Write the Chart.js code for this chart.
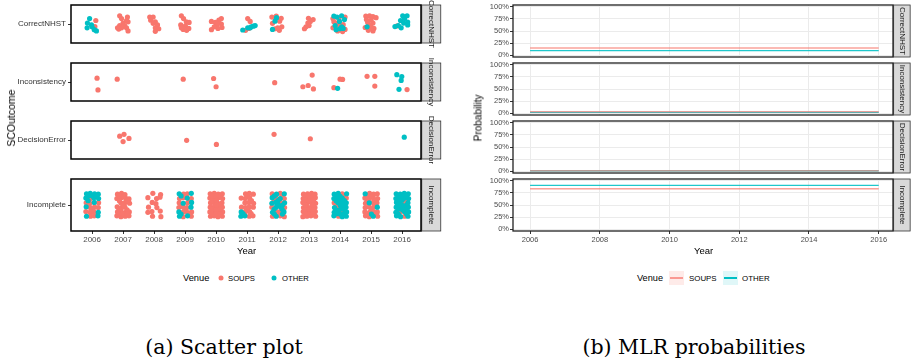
<!DOCTYPE html>
<html>
<head>
<meta charset="utf-8">
<script src="https://cdn.jsdelivr.net/npm/chart.js@4.4.1/dist/chart.umd.min.js"></script>
<style>
  html, body { margin: 0; padding: 0; background: #fff; }
  body { width: 912px; height: 363px; position: relative; overflow: hidden; font-family: "Liberation Sans", Arial, sans-serif; }
  canvas { position: absolute; }
  .t { position: absolute; white-space: nowrap; color: #000; transform: translateY(-50%); }
  .rot { position: absolute; white-space: nowrap; color: #000; transform: translate(-50%, -50%) rotate(-90deg); }
  .cap { position: absolute; text-align: center; font-family: "DejaVu Serif", "Liberation Serif", serif; font-size: 20.5px; line-height: 28px; color: #000; }
  .dot { position: absolute; width: 5px; height: 5px; border-radius: 50%; transform: translate(-50%, -50%); }
  .key { position: absolute; width: 15px; height: 14px; }
  .key i { position: absolute; left: 1px; right: 1px; top: 6px; height: 1.5px; }
</style>
</head>
<body>
<canvas id="s0" width="442" height="72" style="left:0;top:-5px"></canvas>
<canvas id="s1" width="442" height="72" style="left:0;top:53px"></canvas>
<canvas id="s2" width="442" height="72" style="left:0;top:111px"></canvas>
<canvas id="s3" width="442" height="86" style="left:0;top:169px"></canvas>

<canvas id="p0" width="456" height="72" style="left:456px;top:-5px"></canvas>
<canvas id="p1" width="456" height="72" style="left:456px;top:53px"></canvas>
<canvas id="p2" width="456" height="72" style="left:456px;top:111px"></canvas>
<canvas id="p3" width="456" height="86" style="left:456px;top:169px"></canvas>

<div class="rot" style="left:11px;top:118px;font-size:10.5px">SCOutcome</div>
<div class="t" style="left:237px;top:250px;font-size:9.5px">Year</div>
<div class="rot" style="left:478px;top:118px;font-size:10px">Probability</div>
<div class="t" style="left:694px;top:250px;font-size:9.5px">Year</div>

<div class="t" style="left:183px;top:278px;font-size:9.3px">Venue</div>
<div class="dot" style="left:221px;top:278px;background:#F8766D"></div>
<div class="t" style="left:228px;top:278px;font-size:7.7px">SOUPS</div>
<div class="dot" style="left:274px;top:278px;background:#00BFC4"></div>
<div class="t" style="left:282px;top:278px;font-size:7.7px">OTHER</div>

<div class="t" style="left:637px;top:278px;font-size:9.2px">Venue</div>
<div class="key" style="left:669px;top:271px;background:rgba(248,118,109,0.15)"><i style="background:rgba(248,118,109,0.7)"></i></div>
<div class="t" style="left:689px;top:278px;font-size:7.9px">SOUPS</div>
<div class="key" style="left:723px;top:271px;background:rgba(0,191,196,0.12)"><i style="background:#00BFC4"></i></div>
<div class="t" style="left:742px;top:278px;font-size:7.9px">OTHER</div>

<div class="cap" style="left:0;width:448px;top:333px">(a) Scatter plot</div>
<div class="cap" style="left:470px;width:448px;top:333px">(b) MLR probabilities</div>

<script>
const outcomes = ["CorrectNHST", "Inconsistency", "DecisionError", "Incomplete"];
const scatterYears = [2006, 2007, 2008, 2009, 2010, 2011, 2012, 2013, 2014, 2015, 2016];
const mlrYears = [2006, 2016];
const mlrTicks = [2006, 2008, 2010, 2012, 2014, 2016];
const probTicks = [0, 0.25, 0.5, 0.75, 1];

// jittered points: [year, x jitter, y jitter]
const correctSoups = [
  [2006,0.12,0.11],[2006,0.09,-0.08],
  [2007,-0.11,0.26],[2007,0.14,0.22],[2007,-0.05,0.17],[2007,0.11,0.11],[2007,0.16,0.07],[2007,0,0.03],[2007,-0.11,-0.05],[2007,0.05,-0.05],[2007,-0.18,-0.12],[2007,-0.05,-0.12],[2007,0.11,-0.12],[2007,0.16,-0.22],[2007,-0.14,-0.16],
  [2008,-0.14,0.22],[2008,-0.03,0.22],[2008,-0.11,0.12],[2008,0.04,0.07],[2008,-0.03,0.02],[2008,0.11,-0.03],[2008,0.04,-0.12],[2008,0.15,-0.15],[2008,0.04,-0.23],
  [2009,-0.12,0.26],[2009,-0.05,0.17],[2009,0.04,0.07],[2009,0.13,0.05],[2009,-0.14,-0.03],[2009,0.01,-0.06],[2009,0.12,-0.14],[2009,-0.06,-0.17],[2009,0.05,-0.2],[2009,-0.12,-0.12],
  [2010,0.17,0.17],[2010,0.09,0.12],[2010,-0.15,0.08],[2010,-0.02,0.05],[2010,0.17,0],[2010,0.19,-0.11],[2010,0.02,-0.05],[2010,-0.15,-0.18],[2010,0.06,-0.14],[2010,-0.06,-0.09],[2010,0.04,0.03],
  [2011,0.02,0.17],[2011,0.1,0.08],[2011,0.05,-0.14],[2011,-0.05,-0.2],
  [2012,-0.2,0.22],[2012,-0.06,0.25],[2012,0.1,0.18],[2012,0.05,0.09],[2012,-0.18,0.02],[2012,0.12,-0.09],[2012,0.04,-0.2],[2012,-0.1,-0.15],[2012,-0.01,-0.12],
  [2013,-0.02,0.18],[2013,0.13,0.14],[2013,0.04,0.08],[2013,-0.04,0.03],[2013,0,-0.05],[2013,-0.1,-0.09],[2013,-0.15,-0.15],
  [2014,-0.23,0.17],[2014,-0.04,0.18],[2014,0.16,0.22],[2014,-0.1,0.03],[2014,-0.2,0.07],[2014,0.1,-0.02],[2014,0.01,-0.03],[2014,-0.23,-0.12],[2014,0.16,-0.17],[2014,-0.08,-0.22],[2014,0.08,-0.24],[2014,-0.02,-0.08],
  [2015,-0.17,0.25],[2015,-0.05,0.26],[2015,0.06,0.23],[2015,0.16,0.2],[2015,-0.15,0.14],[2015,0,0.12],[2015,-0.11,0.05],[2015,0.06,0.03],[2015,-0.02,-0.05],[2015,-0.19,-0.11],[2015,0.09,-0.14],[2015,-0.09,-0.2],[2015,0.06,-0.22],[2015,0,-0.11],
  [2016,-0.16,-0.06]
];
const correctOther = [
  [2006,-0.08,0.17],[2006,-0.15,0.03],[2006,-0.16,-0.12],[2006,0,-0.09],[2006,0.07,-0.18],[2006,0.14,-0.22],[2006,-0.02,-0.03],
  [2011,-0.14,-0.19],[2011,0.02,-0.12],[2011,0.13,-0.09],[2011,0.2,-0.07],[2011,0.26,-0.05],[2011,0.1,-0.12],
  [2012,-0.1,0.09],[2012,-0.18,-0.17],[2012,-0.05,0.2],
  [2014,-0.2,0.25],[2014,-0.1,0.22],[2014,0.05,0.26],[2014,0.14,0.14],[2014,-0.02,0.08],[2014,-0.16,-0.05],[2014,0.05,-0.09],[2014,-0.13,-0.18],[2014,0.1,-0.14],[2014,-0.01,-0.15],
  [2015,-0.13,-0.09],
  [2016,0.02,0.26],[2016,0.16,0.26],[2016,0.08,0.17],[2016,-0.05,0.11],[2016,0.18,0.06],[2016,0.05,0.03],[2016,0.18,-0.03],[2016,-0.12,-0.05],[2016,-0.03,-0.12],[2016,-0.23,-0.08]
];
const inconsSoups = [
  [2006,0.16,0.12],[2006,0.19,-0.25],[2007,-0.19,0.09],[2009,-0.06,0.09],[2010,-0.08,0.11],[2010,0,-0.15],
  [2012,-0.11,-0.02],[2013,0.1,0.22],[2013,-0.2,-0.15],[2013,-0.03,-0.11],[2013,0.14,-0.22],
  [2014,0,0.09],[2014,0.08,0.08],[2014,-0.2,-0.18],[2015,-0.13,0.18],[2015,0.12,0.18],[2015,0.12,-0.13],[2016,0.16,-0.24]
];
const inconsOther = [
  [2014,-0.08,-0.2],[2016,-0.17,0.23],[2016,-0.01,0.17],[2016,-0.03,0.05],[2016,-0.1,-0.23]
];
const decisionSoups = [
  [2007,-0.11,0.12],[2007,0.03,0.18],[2007,0.19,0.05],[2007,0,-0.05],[2009,0.05,-0.01],[2010,0.01,-0.14],[2012,-0.13,0.18],[2013,0.04,0.04]
];
const decisionOther = [
  [2016,0.07,0.09]
];
const incompleteSoups = [
  [2006,-0.05,0.15],[2006,-0.19,0.05],[2006,-0.07,0.04],[2006,0.21,0.05],[2006,-0.06,-0.06],[2006,0.08,-0.05],[2006,0.2,-0.06],[2006,-0.2,-0.15],[2006,-0.07,-0.17],[2006,0.06,-0.16],[2006,-0.05,-0.26],[2006,0.07,-0.25],
  [2006,0.0,-0.1],[2006,0.13,-0.2],[2006,-0.13,0.0],
  [2007,-0.18,0.25],[2007,-0.05,0.27],[2007,0.06,0.24],[2007,-0.2,0.15],[2007,-0.06,0.17],[2007,0.08,0.16],[2007,0.19,0.14],[2007,-0.07,0.05],[2007,0.07,0.06],[2007,0.21,0.04],[2007,-0.19,-0.04],[2007,-0.05,-0.06],[2007,0.06,-0.05],
  [2007,-0.18,-0.16],[2007,-0.06,-0.15],[2007,0.08,-0.17],[2007,0.2,-0.16],[2007,-0.2,-0.25],[2007,-0.07,-0.27],[2007,0.07,-0.26],[2007,0.19,-0.25],[2007,0,0],[2007,-0.12,0.1],
  [2007,-0.12,0.21],[2007,0.01,0.2],[2007,0.13,0.1],[2007,-0.13,-0.1],[2007,0.13,-0.11],[2007,-0.12,-0.21],[2007,0.0,-0.2],[2007,0.14,-0.21],
  [2008,-0.04,0.27],[2008,0.21,0.24],[2008,-0.2,0.17],[2008,0.08,0.15],[2008,0.19,0.18],[2008,-0.06,0.06],[2008,0.06,0.03],[2008,-0.18,-0.05],[2008,0.09,-0.06],[2008,-0.2,-0.17],[2008,-0.07,-0.15],[2008,0.2,-0.14],[2008,-0.05,-0.26],[2008,0.22,-0.27],
  [2009,-0.05,0.25],[2009,0.07,0.26],[2009,-0.18,0.15],[2009,-0.06,0.17],[2009,0.2,0.15],[2009,-0.19,0.05],[2009,0.08,0.05],[2009,-0.2,-0.06],[2009,-0.07,-0.04],[2009,0.06,-0.06],[2009,-0.05,-0.15],[2009,0.07,-0.17],[2009,0.21,-0.16],[2009,-0.06,-0.27],[2009,0.2,-0.26],
  [2009,0.01,0.2],[2009,-0.12,0.0],[2009,0.0,-0.1],[2009,0.13,-0.21],[2009,0.14,0.1],
  [2010,-0.19,0.26],[2010,-0.06,0.27],[2010,0.07,0.25],[2010,0.2,0.26],[2010,-0.2,0.16],[2010,-0.05,0.15],[2010,0.08,0.17],[2010,0.21,0.15],[2010,-0.18,0.05],[2010,-0.07,0.06],[2010,0.06,0.04],[2010,0.19,0.05],
  [2010,-0.19,-0.05],[2010,-0.06,-0.04],[2010,0.07,-0.06],[2010,0.2,-0.05],[2010,-0.2,-0.16],[2010,-0.05,-0.17],[2010,0.08,-0.15],[2010,0.21,-0.16],[2010,-0.18,-0.26],[2010,-0.06,-0.25],[2010,0.06,-0.27],[2010,0.2,-0.26],
  [2010,-0.13,0.21],[2010,0.0,0.2],[2010,0.14,0.21],[2010,-0.12,0.1],[2010,0.01,0.11],[2010,0.13,0.0],[2010,-0.13,-0.1],[2010,0.0,-0.11],[2010,0.14,-0.1],[2010,-0.12,-0.21],[2010,0.01,-0.2],[2010,0.13,-0.21],[2010,0.0,0.0],
  [2011,-0.05,0.26],[2011,0.07,0.27],[2011,0.2,0.25],[2011,-0.19,0.16],[2011,-0.06,0.15],[2011,0.08,0.17],[2011,-0.07,0.05],[2011,0.06,0.06],[2011,0.21,0.04],[2011,-0.18,-0.05],[2011,-0.05,-0.06],[2011,0.07,-0.04],[2011,0.2,-0.05],[2011,-0.06,-0.16],[2011,0.08,-0.15],[2011,0.07,-0.26],[2011,0.19,-0.25],
  [2011,0.0,0.2],[2011,0.14,0.1],[2011,0.01,-0.1],[2011,0.13,-0.2],
  [2012,-0.19,0.26],[2012,0.07,0.27],[2012,-0.06,0.16],[2012,0.2,0.15],[2012,0.08,0.05],[2012,-0.2,-0.05],[2012,0.21,-0.06],[2012,-0.05,-0.16],[2012,0.06,-0.15],[2012,-0.18,-0.26],[2012,0.07,-0.25],[2012,0.2,-0.27],
  [2012,0.13,0.2],[2012,0.01,-0.21],[2012,-0.13,0.1],
  [2013,-0.18,0.25],[2013,-0.05,0.26],[2013,0.08,0.27],[2013,0.19,0.25],[2013,-0.19,0.15],[2013,-0.07,0.16],[2013,0.06,0.15],[2013,0.2,0.17],[2013,-0.2,0.06],[2013,-0.06,0.05],[2013,0.07,0.06],[2013,0.21,0.04],
  [2013,-0.18,-0.06],[2013,-0.05,-0.05],[2013,0.08,-0.04],[2013,0.19,-0.06],[2013,-0.19,-0.15],[2013,-0.06,-0.16],[2013,0.07,-0.17],[2013,0.2,-0.15],[2013,-0.2,-0.27],[2013,-0.07,-0.26],[2013,0.06,-0.25],[2013,0.21,-0.26],
  [2013,-0.12,0.2],[2013,0.01,0.21],[2013,0.13,0.2],[2013,-0.13,0.11],[2013,0.0,0.1],[2013,0.14,0.11],[2013,-0.12,0.0],[2013,0.13,-0.01],[2013,-0.13,-0.11],[2013,0.01,-0.1],[2013,0.14,-0.11],[2013,-0.12,-0.2],[2013,0.0,-0.21],[2013,0.13,-0.2],
  [2014,0.07,0.26],[2014,0.2,0.16],[2014,-0.19,0.05],[2014,-0.06,-0.05],[2014,0.08,-0.16],[2014,-0.05,-0.26],[2014,0.13,0.21],[2014,-0.12,0.0],
  [2015,-0.05,0.27],[2015,0.08,0.25],[2015,0.2,0.26],[2015,-0.2,0.16],[2015,-0.06,0.15],[2015,0.07,0.17],[2015,0.21,0.15],[2015,-0.18,0.04],[2015,0.06,0.06],[2015,0.19,0.05],[2015,-0.19,-0.06],[2015,-0.07,-0.04],[2015,0.08,-0.05],
  [2015,-0.2,-0.16],[2015,-0.05,-0.17],[2015,0.07,-0.15],[2015,0.2,-0.16],[2015,-0.18,-0.25],[2015,-0.06,-0.27],[2015,0.21,-0.26],
  [2015,-0.12,0.21],[2015,0.01,0.2],[2015,0.14,0.1],[2015,-0.13,0.1],[2015,0.0,-0.1],[2015,0.13,-0.2],[2015,-0.12,-0.21],[2015,0.13,0.0],
  [2016,0.07,0.05],[2016,-0.06,-0.16],[2016,0.08,-0.26],[2016,0.13,0.1]
];
const incompleteOther = [
  [2006,-0.18,0.26],[2006,-0.06,0.27],[2006,0.08,0.26],[2006,0.2,0.25],[2006,-0.2,0.16],[2006,0.06,0.17],[2006,0.21,0.15],[2006,0.07,0.06],[2006,-0.19,-0.04],[2006,0.2,-0.17],[2006,-0.18,-0.26],[2006,0.19,-0.25],
  [2006,-0.12,0.21],[2006,0.01,0.21],[2006,0.14,0.2],[2006,-0.13,0.1],
  [2009,-0.19,0.26],[2009,0.2,0.27],[2009,0.07,0.16],[2009,-0.06,0.04],[2009,0.21,0.06],[2009,0.19,-0.05],[2009,-0.2,-0.16],[2009,-0.18,-0.26],[2009,0.08,-0.25],
  [2009,-0.13,0.21],[2009,-0.13,-0.21],
  [2011,-0.19,-0.16],[2011,-0.2,-0.26],[2011,-0.07,-0.25],[2011,-0.13,-0.2],
  [2012,-0.05,0.25],[2012,0.2,0.26],[2012,-0.19,0.17],[2012,0.07,0.15],[2012,-0.2,0.04],[2012,-0.07,0.06],[2012,0.21,0.05],[2012,-0.06,-0.05],[2012,0.08,-0.04],[2012,-0.18,-0.17],[2012,0.19,-0.16],[2012,-0.06,-0.26],
  [2012,-0.12,0.21],[2012,0.0,0.1],[2012,0.14,0.0],[2012,-0.13,-0.1],[2012,0.01,0.0],[2012,0.13,-0.1],[2012,-0.12,-0.21],[2012,0.14,-0.21],
  [2014,-0.19,0.25],[2014,-0.06,0.27],[2014,0.21,0.26],[2014,-0.2,0.15],[2014,-0.05,0.17],[2014,0.07,0.16],[2014,-0.07,0.06],[2014,0.06,0.04],[2014,0.2,0.05],[2014,-0.18,-0.06],[2014,0.08,-0.04],[2014,0.19,-0.05],
  [2014,-0.19,-0.17],[2014,-0.06,-0.15],[2014,0.21,-0.16],[2014,-0.2,-0.25],[2014,0.07,-0.27],[2014,0.2,-0.26],
  [2014,-0.12,0.21],[2014,0.0,0.2],[2014,-0.13,0.1],[2014,0.01,0.1],[2014,0.14,0.1],[2014,0.0,0.0],[2014,0.13,-0.01],[2014,-0.13,-0.11],[2014,0.01,-0.1],[2014,0.14,-0.11],[2014,-0.12,-0.2],[2014,0.0,-0.21],[2014,0.13,-0.2],
  [2015,-0.19,0.26],[2015,-0.06,0.05],[2015,0.2,-0.05],[2015,0.07,-0.26],[2015,0.01,-0.21],
  [2016,-0.19,0.26],[2016,-0.06,0.25],[2016,0.07,0.27],[2016,0.2,0.26],[2016,-0.2,0.15],[2016,-0.05,0.17],[2016,0.08,0.16],[2016,0.21,0.15],[2016,-0.18,0.06],[2016,-0.07,0.04],[2016,0.19,0.05],
  [2016,-0.19,-0.05],[2016,-0.06,-0.06],[2016,0.06,-0.04],[2016,0.2,-0.05],[2016,-0.2,-0.17],[2016,0.07,-0.15],[2016,0.21,-0.16],[2016,-0.18,-0.25],[2016,-0.05,-0.27],[2016,0.19,-0.26],
  [2016,-0.12,0.21],[2016,0.01,0.2],[2016,0.14,0.21],[2016,-0.13,0.1],[2016,0.0,0.11],[2016,-0.12,0.0],[2016,0.0,-0.01],[2016,0.14,0.0],[2016,-0.13,-0.1],[2016,0.01,-0.11],[2016,0.13,-0.1],[2016,-0.12,-0.21],[2016,0.14,-0.2]
];

// MLR predicted probability per outcome, with band
const soupsProb = [0.15, 0.03, 0.01, 0.835];
const soupsLow  = [0.138, 0.02, 0.003, 0.822];
const soupsHigh = [0.162, 0.04, 0.018, 0.848];
const otherProb = [0.097, 0.017, 0.008, 0.903];
const otherLow  = [0.087, 0.008, 0.001, 0.892];
const otherHigh = [0.108, 0.027, 0.016, 0.914];

const soupsColor = "#F8766D";
const otherColor = "#00BFC4";

Chart.defaults.font.family = '"Liberation Sans", Arial, sans-serif';

const frame = {
  id: "frame",
  afterDraw(chart, args, opts) {
    const { ctx, chartArea: a } = chart;
    const h = a.bottom - a.top;
    ctx.save();
    const x0 = a.right + opts.width / 2;
    ctx.fillStyle = "#D9D9D9";
    ctx.fillRect(x0, a.top, opts.strip, h);
    ctx.strokeStyle = "#333";
    ctx.lineWidth = 0.8;
    ctx.strokeRect(x0, a.top, opts.strip, h);
    ctx.strokeStyle = opts.color;
    ctx.lineWidth = opts.width;
    ctx.strokeRect(a.left, a.top, a.right - a.left, h);
    ctx.translate(x0 + opts.strip / 2, a.top + h / 2);
    ctx.rotate(Math.PI / 2);
    ctx.fillStyle = "#1A1A1A";
    ctx.font = '8px "Liberation Sans", Arial, sans-serif';
    ctx.textAlign = "center";
    ctx.textBaseline = "middle";
    ctx.fillText(opts.label, 0, 0);
    ctx.restore();
  }
};

const toPoint = ([yr, dx, dy]) => ({ x: yr + dx, y: dy });

function scatterPanel(id, i, soups, other) {
  const bottom = i === 3;
  new Chart(document.getElementById(id), {
    type: "scatter",
    data: {
      datasets: [
        { label: "SOUPS", data: soups.map(toPoint), backgroundColor: soupsColor, order: 1 },
        { label: "OTHER", data: other.map(toPoint), backgroundColor: otherColor, order: 0 }
      ]
    },
    options: {
      responsive: false,
      animation: false,
      events: [],
      elements: { point: { radius: 2.6, hoverRadius: 2.6, borderWidth: 0 } },
      layout: { padding: { top: 10, bottom: 10, left: 0, right: 21 } },
      plugins: {
        legend: { display: false },
        tooltip: { enabled: false },
        frame: { label: outcomes[i], color: "#000", width: 1.5, strip: 19 }
      },
      scales: {
        x: {
          type: "linear", min: 2005.32, max: 2016.61, display: bottom,
          afterBuildTicks: s => { s.ticks = scatterYears.map(v => ({ value: v })); },
          afterFit: s => { s.height = 14; },
          ticks: { font: { size: 8 }, color: "#4D4D4D", padding: 1, maxRotation: 0, autoSkip: false, callback: v => String(v) },
          grid: { drawOnChartArea: false, tickLength: 3, color: "#333" },
          border: { display: false }
        },
        y: {
          type: "linear", min: -0.6, max: 0.6,
          afterBuildTicks: s => { s.ticks = [{ value: 0 }]; },
          afterFit: s => { s.width = 71; },
          ticks: { font: { size: 8 }, color: "#333", padding: 2, callback: () => outcomes[i] },
          grid: { drawOnChartArea: false, tickLength: 3, color: "#333" },
          border: { display: false }
        }
      }
    },
    plugins: [frame]
  });
}

function probPanel(id, i) {
  const bottom = i === 3;
  const line = vals => mlrYears.map(x => ({ x, y: vals[i] }));
  const band = { borderWidth: 0, pointRadius: 0, order: 1 };
  new Chart(document.getElementById(id), {
    type: "line",
    data: {
      datasets: [
        { ...band, data: line(soupsHigh), fill: "+1", backgroundColor: "rgba(248,118,109,0.22)" },
        { ...band, data: line(soupsLow), fill: false },
        { ...band, data: line(otherHigh), fill: "+1", backgroundColor: "rgba(0,191,196,0.2)" },
        { ...band, data: line(otherLow), fill: false },
        { data: line(soupsProb), borderColor: "rgba(248,118,109,0.6)", borderWidth: 1.4, pointRadius: 0, fill: false, order: 0 },
        { data: line(otherProb), borderColor: "rgba(0,191,196,0.85)", borderWidth: 1.2, pointRadius: 0, fill: false, order: 0 }
      ]
    },
    options: {
      responsive: false,
      animation: false,
      events: [],
      layout: { padding: { top: 10, bottom: 10, left: 0, right: 19 } },
      plugins: {
        legend: { display: false },
        tooltip: { enabled: false },
        frame: { label: outcomes[i], color: "#222", width: 1.3, strip: 16.5 }
      },
      scales: {
        x: {
          type: "linear", min: 2005.51, max: 2016.41,
          afterBuildTicks: s => { s.ticks = mlrTicks.map(v => ({ value: v })); },
          afterFit: s => { s.height = bottom ? 14 : 0; },
          ticks: { display: bottom, font: { size: 7.5 }, color: "#4D4D4D", padding: 1, maxRotation: 0, autoSkip: false, callback: v => String(v) },
          grid: { color: "#EBEBEB", tickColor: "#333", tickLength: 3, drawTicks: bottom },
          border: { display: false }
        },
        y: {
          type: "linear", min: -0.036, max: 1.036,
          afterBuildTicks: s => { s.ticks = probTicks.map(v => ({ value: v })); },
          afterFit: s => { s.width = 57; },
          ticks: { font: { size: 7.5 }, color: "#4D4D4D", padding: 1, callback: v => Math.round(v * 100) + "%" },
          grid: { color: "#EBEBEB", tickColor: "#333", tickLength: 3 },
          border: { display: false }
        }
      }
    },
    plugins: [frame]
  });
}

scatterPanel("s0", 0, correctSoups, correctOther);
scatterPanel("s1", 1, inconsSoups, inconsOther);
scatterPanel("s2", 2, decisionSoups, decisionOther);
scatterPanel("s3", 3, incompleteSoups, incompleteOther);

probPanel("p0", 0);
probPanel("p1", 1);
probPanel("p2", 2);
probPanel("p3", 3);
</script>
</body>
</html>
